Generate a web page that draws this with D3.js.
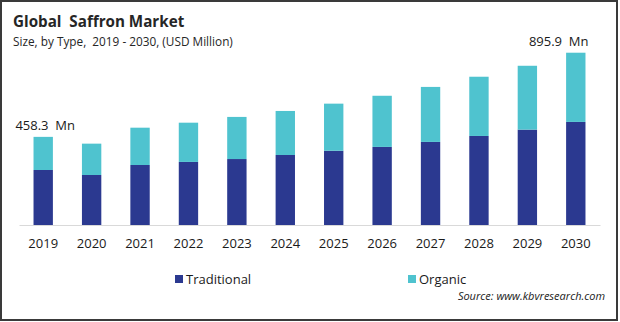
<!DOCTYPE html>
<html>
<head>
<meta charset="utf-8">
<script src="https://cdn.jsdelivr.net/npm/d3@7"></script>
<style>
  body { margin: 0; background: #fff; }
  svg { display: block; font-family: "Open Sans", "Noto Sans", sans-serif; }
</style>
</head>
<body>
<script>
// values (USD Million)
var years = ["2019","2020","2021","2022","2023","2024","2025","2026","2027","2028","2029","2030"]
var traditional = [286, 260, 312, 328, 343, 364, 386, 406, 432, 463, 496, 536]
var organic = [172.3, 163, 194, 204, 219, 229, 245, 266, 286, 308, 332, 359.9]
var seriesNames = ["Traditional", "Organic"]
var colors = ["#2b3990", "#4fc3cf"]
var endLabels = {"2019": "458.3  Mn", "2030": "895.9  Mn"}

var width = 620, height = 322
var margins = {left: 19, right: 20, top: 40, bottom: 97}

var svg = d3.select("body").append("svg")
  .attr("width", width)
  .attr("height", height)

svg.append("rect")
  .attr("x", 1).attr("y", 1)
  .attr("width", width - 4).attr("height", height - 3)
  .attr("fill", "none")
  .attr("stroke", "#3a3a3a")
  .attr("stroke-width", 2)

var rows = years.map(function(y, i) {
  return {year: y, Traditional: traditional[i], Organic: organic[i]}
})
var stacked = d3.stack().keys(seriesNames)(rows)

var scaleX = d3.scaleBand().domain(years)
  .range([margins.left, width - margins.right])
  .paddingInner(0.6).paddingOuter(0.3)
var scaleY = d3.scaleLinear().domain([0, 1000]).range([225, 225 - 1000 / 5.2])

var groups = svg.selectAll("g.series")
  .data(stacked)
  .enter().append("g")
  .attr("class", "series")
  .attr("fill", function(d, i) { return colors[i] })

groups.selectAll("rect")
  .data(function(d) { return d })
  .enter().append("rect")
  .attr("x", function(d) { return scaleX(d.data.year) })
  .attr("width", scaleX.bandwidth())
  .attr("y", function(d) { return scaleY(d[1]) })
  .attr("height", function(d) { return scaleY(d[0]) - scaleY(d[1]) })

// x axis
var axisX = svg.append("g")
  .attr("transform", "translate(0," + scaleY(0) + ")")
  .call(d3.axisBottom(scaleX).tickSize(0).tickPadding(14))
axisX.select(".domain").attr("stroke", "#d9d9d9").attr("stroke-width", 1)
axisX.selectAll("text")
  .attr("font-size", 13)
  .attr("fill", "#1a1a1a")
  .attr("font-family", "\"Open Sans\", sans-serif")

// total labels on first and last bar
svg.selectAll("text.total")
  .data(rows.filter(function(d) { return endLabels[d.year] }))
  .enter().append("text")
  .attr("class", "total")
  .attr("x", function(d, i) {
    return i === 0 ? scaleX(d.year) + scaleX.bandwidth() / 2 + 2 : scaleX(d.year) + scaleX.bandwidth() + 3
  })
  .attr("y", function(d) { return scaleY(d.Traditional + d.Organic) - 7 })
  .attr("text-anchor", function(d, i) { return i === 0 ? "middle" : "end" })
  .attr("font-size", 13)
  .attr("fill", "#1a1a1a")
  .style("white-space", "pre")
  .text(function(d) { return endLabels[d.year] })

// title
svg.append("text")
  .attr("x", 13).attr("y", 27)
  .attr("font-size", 15.2)
  .attr("font-weight", "bold")
  .attr("fill", "#262626")
  .style("white-space", "pre")
  .text("Global  Saffron Market")
svg.append("text")
  .attr("x", 13).attr("y", 46)
  .attr("font-size", 11.8)
  .attr("fill", "#262626")
  .style("white-space", "pre")
  .text("Size, by Type,  2019 - 2030, (USD Million)")

// legend
var legendX = [175, 408]
var legend = svg.selectAll("g.legend")
  .data(seriesNames)
  .enter().append("g")
  .attr("class", "legend")
  .attr("transform", function(d, i) { return "translate(" + legendX[i] + ",273)" })
legend.append("rect")
  .attr("y", 2)
  .attr("width", 8).attr("height", 8)
  .attr("fill", function(d, i) { return colors[i] })
legend.append("text")
  .attr("x", 11).attr("y", 10.5)
  .attr("font-size", 13)
  .attr("fill", "#1a1a1a")
  .text(function(d) { return d })

svg.append("text")
  .attr("x", 605).attr("y", 300)
  .attr("text-anchor", "end")
  .attr("font-size", 11)
  .attr("font-style", "italic")
  .attr("fill", "#1a1a1a")
  .text("Source: www.kbvresearch.com")
</script>
</body>
</html>
